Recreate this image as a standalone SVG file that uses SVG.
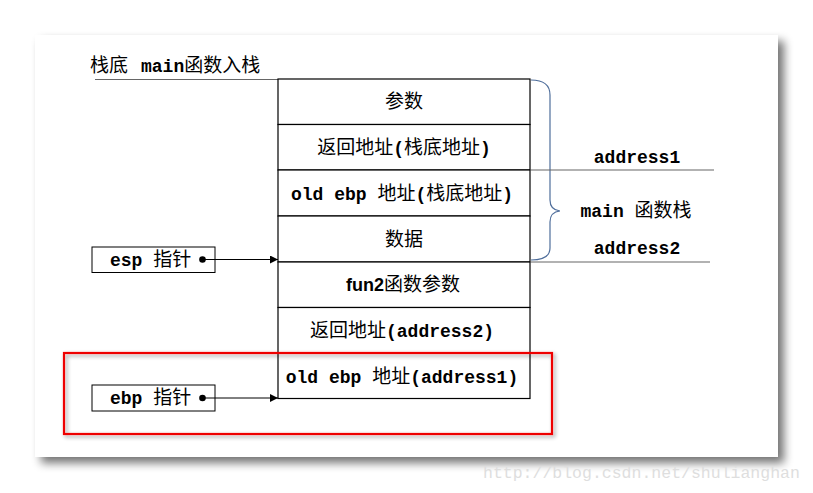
<svg xmlns="http://www.w3.org/2000/svg" width="813" height="493" viewBox="0 0 813 493">
<defs>
<filter id="pageShadow" x="-5%" y="-5%" width="112%" height="115%">
<feGaussianBlur in="SourceAlpha" stdDeviation="5"/>
<feOffset dx="6" dy="6" result="b"/>
<feComponentTransfer><feFuncA type="linear" slope="0.55"/></feComponentTransfer>
<feMerge><feMergeNode/><feMergeNode in="SourceGraphic"/></feMerge>
</filter>
<filter id="redShadow" x="-5%" y="-10%" width="110%" height="130%">
<feGaussianBlur in="SourceAlpha" stdDeviation="2"/>
<feOffset dx="2" dy="2"/>
<feComponentTransfer><feFuncA type="linear" slope="0.4"/></feComponentTransfer>
<feMerge><feMergeNode/><feMergeNode in="SourceGraphic"/></feMerge>
</filter>
<marker id="arrow" viewBox="0 0 10 10" refX="10" refY="5" markerWidth="8" markerHeight="8" markerUnits="userSpaceOnUse" orient="auto">
<path d="M0,0 L10,5 L0,10 z" fill="#000"/>
</marker>
</defs>
<style>
.cell{fill:#fff;stroke:#000;stroke-width:1.2}
.t{font-family:"Liberation Mono","Noto Sans CJK SC",monospace;font-weight:bold;font-size:18px;fill:#000;text-anchor:middle}
.cjk{font-family:"Noto Sans CJK SC",sans-serif;font-weight:normal;font-size:19px}
.sans{font-family:"Liberation Sans","Noto Sans CJK SC",sans-serif;font-weight:bold}
.gline{stroke:#666;stroke-width:1.2}
.conn{stroke:#000;stroke-width:1;fill:none}
</style>
<rect width="813" height="493" fill="#fff"/>
<rect x="35" y="35" width="743" height="422" fill="#fff" filter="url(#pageShadow)"/>

<text x="90" y="72" class="t" style="text-anchor:start"><tspan class="cjk">栈底</tspan><tspan x="141">main</tspan><tspan class="cjk">函数入栈</tspan></text>
<line x1="95" y1="79.5" x2="278" y2="79.5" class="gline"/>

<g id="stack">
<g id="row1"><rect x="278" y="79" width="252" height="45.5" class="cell"/><text x="404" y="108" class="t cjk">参数</text></g>
<g id="row2"><rect x="278" y="124.5" width="252" height="45.5" class="cell"/><text x="404" y="154" class="t"><tspan class="cjk">返回地址</tspan>(<tspan class="cjk">栈底地址</tspan>)</text></g>
<g id="row3"><rect x="278" y="170" width="252" height="46" class="cell"/><text x="402" y="200" class="t">old ebp <tspan class="cjk">地址</tspan>(<tspan class="cjk">栈底地址</tspan>)</text></g>
<g id="row4"><rect x="278" y="216" width="252" height="46" class="cell"/><text x="404" y="246" class="t cjk">数据</text></g>
<g id="row5"><rect x="278" y="262" width="252" height="45.5" class="cell"/><text x="403" y="291" class="t"><tspan class="sans">fun2</tspan><tspan class="cjk">函数参数</tspan></text></g>
<g id="row6"><rect x="278" y="307.5" width="252" height="45.5" class="cell"/><text x="402" y="337" class="t"><tspan class="cjk">返回地址</tspan>(address2)</text></g>
<g id="row7"><rect x="278" y="353" width="252" height="45.5" class="cell"/><text x="402" y="383" class="t">old ebp <tspan class="cjk">地址</tspan>(address1)</text></g>
</g>

<g id="brace">
<path d="M531,80 Q550,80 550,95 L550,200 Q550,210 560,211 Q550,212 550,222 L550,248 Q550,260 531,260" fill="none" stroke="#4f6e9b" stroke-width="1.2"/>
</g>

<g id="labels-right">
<line x1="530" y1="170" x2="714" y2="170" class="gline"/>
<line x1="530" y1="262" x2="710" y2="262" class="gline"/>
<text x="637" y="163" class="t">address1</text>
<text x="636" y="217" class="t">main <tspan class="cjk">函数栈</tspan></text>
<text x="637" y="254" class="t">address2</text>
</g>

<g id="esp">
<rect x="92" y="247" width="123" height="25.5" fill="#fff" stroke="#000" stroke-width="1"/>
<text x="110" y="266" class="t" style="text-anchor:start">esp <tspan class="cjk">指针</tspan></text>
<circle cx="202.5" cy="259.5" r="3.3" fill="#000"/>
</g>
<g id="ebp">
<rect x="92" y="385" width="123" height="26" fill="#fff" stroke="#000" stroke-width="1"/>
<text x="110" y="404" class="t" style="text-anchor:start">ebp <tspan class="cjk">指针</tspan></text>
<circle cx="202.5" cy="398" r="3.3" fill="#000"/>
</g>

<g id="connectors">
<line x1="202.5" y1="259.5" x2="278" y2="259.5" class="conn" marker-end="url(#arrow)"/>
<line x1="202.5" y1="398" x2="278" y2="398" class="conn" marker-end="url(#arrow)"/>
</g>

<g id="highlight">
<rect x="64" y="353" width="488" height="81" fill="none" stroke="#e00" stroke-width="2.2" filter="url(#redShadow)"/>
</g>

<text x="483" y="478" style="font-family:'Liberation Mono',monospace;font-size:16.5px;fill:#dedede">http://blog.csdn.net/shulianghan</text>
</svg>
